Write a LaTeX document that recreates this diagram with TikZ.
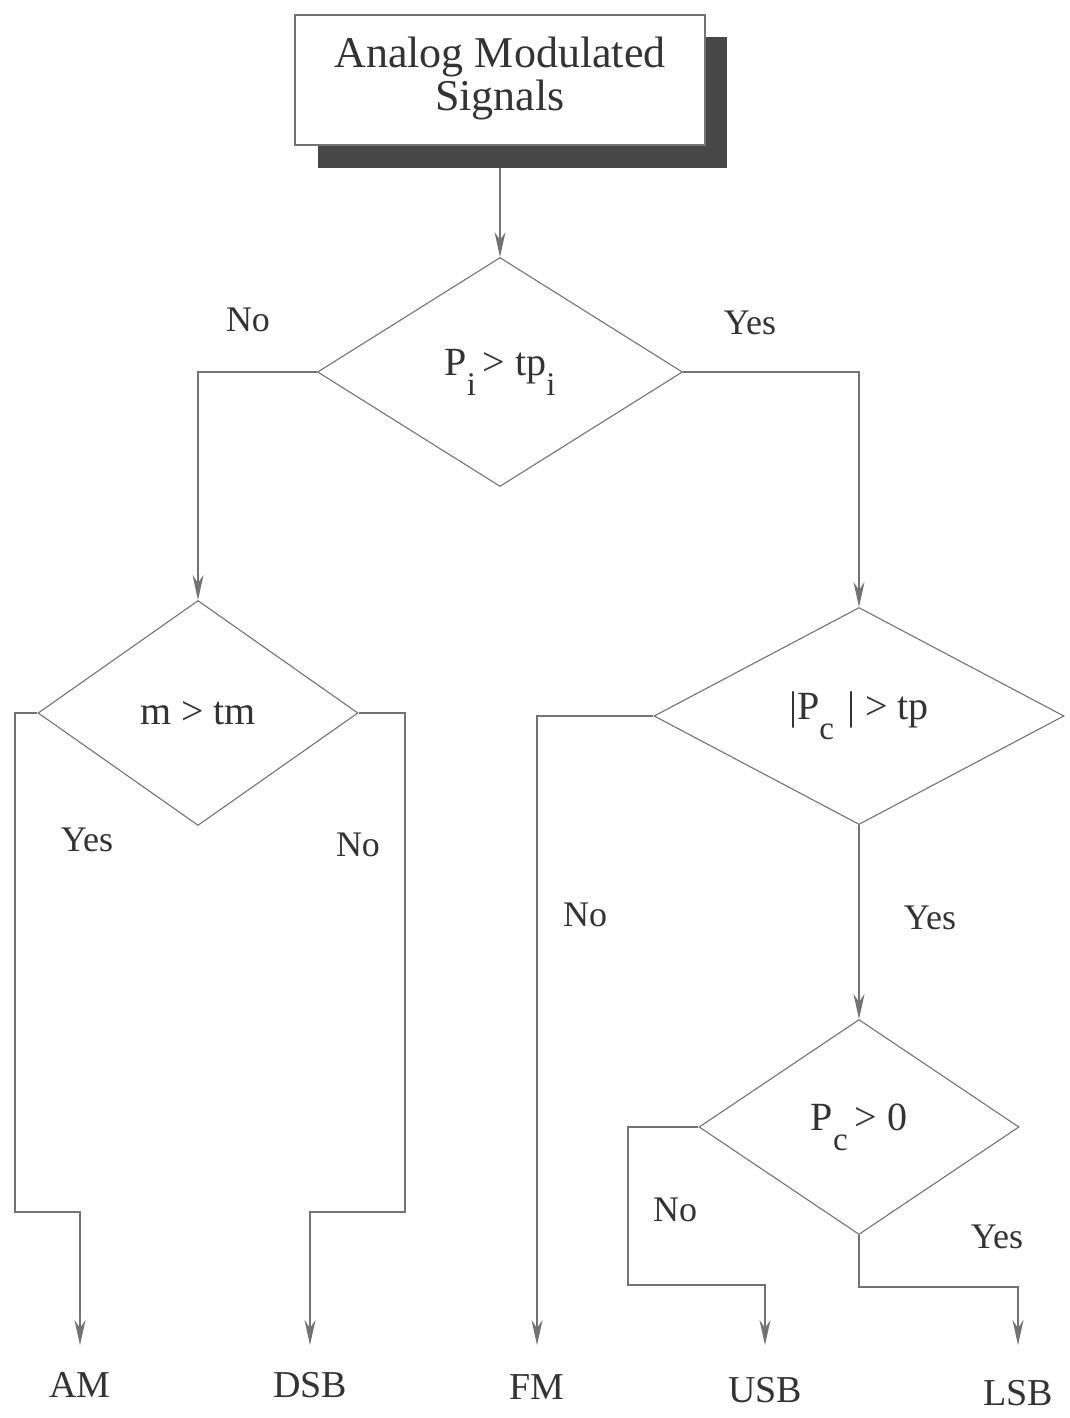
\documentclass[tikz,border=0pt]{standalone}
\usepackage{fontspec}
\setmainfont{Liberation Serif}
\usetikzlibrary{shapes.geometric,arrows.meta}
\newcommand{\lowsub}[1]{\raisebox{-20pt}{\fontsize{33}{33}\selectfont #1}}
\begin{document}
\begin{tikzpicture}[x=1pt,y=-1pt,
  line/.style={draw=black!55, line width=1.1pt},
  arr/.style={line, -{Stealth[length=25pt,width=11pt]}},
  dia/.style={shape=diamond, draw=black!55, line width=1.1pt, inner sep=0pt, text=black!80,
              font=\fontsize{40}{40}\selectfont},
  lab/.style={text=black!80, font=\fontsize{36}{36}\selectfont, inner sep=0pt},
  outlbl/.style={text=black!80, font=\fontsize{38}{38}\selectfont, inner sep=0pt, anchor=north}]
\useasboundingbox (0,0) rectangle (1069,1418);
\fill[white] (0,0) rectangle (1069,1418);
% shadow and top box
\fill[black!72] (318,37) rectangle (727,168);
\node[draw=black!55, line width=1.1pt, fill=white, minimum width=410pt, minimum height=130pt,
      inner sep=0pt, text=black!80, font=\fontsize{44}{43}\selectfont] (top) at (500,80)
      {\raisebox{6pt}{\begin{tabular}{@{}c@{}}Analog Modulated\\Signals\end{tabular}}};
\coordinate (topout) at (500,168);
% diamonds
\node[dia, minimum width=365pt, minimum height=229pt] (d1) at (500,372)
  {\raisebox{8pt}{P\lowsub{i}\,> tp\lowsub{i}}};
\node[dia, minimum width=320pt, minimum height=225pt] (d2) at (198,713) {m > tm};
\node[dia, minimum width=410pt, minimum height=217pt] (d3) at (859,716)
  {\raisebox{8pt}{|P\lowsub{c}\,\,| > tp}};
\node[dia, minimum width=320pt, minimum height=215pt] (d4) at (859,1127)
  {\raisebox{8pt}{P\lowsub{c}\,> 0}};
% outputs
\node[outlbl] (am)  at (80,1372)  {AM};
\node[outlbl] (dsb) at (310,1372) {DSB};
\node[outlbl] (fm)  at (537,1374) {FM};
\node[outlbl] (usb) at (765,1377) {USB};
\node[outlbl] (lsb) at (1018,1380) {LSB};
% connectors
\draw[arr] (topout) -- (d1.north);
\draw[arr] (d1.west) -| (d2.north);
\draw[arr] (d1.east) -| (d3.north);
\draw[arr, shorten >=27pt] (d2.west) -| (15,1212) -| (am.north);
\draw[arr, shorten >=27pt] (d2.east) -| (405,1212) -| (dsb.north);
\draw[arr, shorten >=29pt] (d3.west) -| (fm.north);
\draw[arr] (d3.south) -- (d4.north);
\draw[arr, shorten >=32pt] (d4.west) -| (628,1285) -| (usb.north);
\draw[arr, shorten >=35pt] (d4.south) -- (859,1287) -| (lsb.north);
% branch labels
\node[lab] (l1) at (248,320) {No};
\node[lab] (l2) at (750,323) {Yes};
\node[lab] (l3) at (87,840) {Yes};
\node[lab] (l4) at (358,845) {No};
\node[lab] (l5) at (585,915) {No};
\node[lab] (l6) at (930,918) {Yes};
\node[lab] (l7) at (675,1210) {No};
\node[lab] (l8) at (997,1237) {Yes};
\end{tikzpicture}
\end{document}
